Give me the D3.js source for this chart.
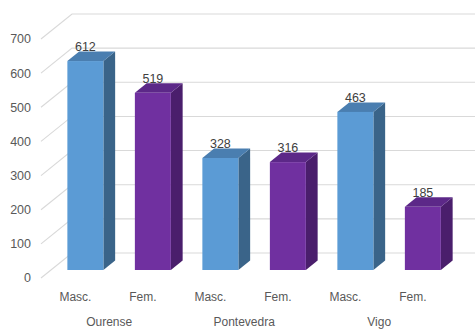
<!DOCTYPE html>
<html><head><meta charset="utf-8">
<script src="https://cdn.jsdelivr.net/npm/d3@7"></script>
<style>html,body{margin:0;padding:0;background:#fff;}svg{display:block;}</style>
</head><body>
<svg id="c" width="475" height="329"></svg>
<script>
const groups = ["Ourense", "Pontevedra", "Vigo"];
const genders = ["Masc.", "Fem."];
const values = [612, 519, 328, 316, 463, 185];
const ticks = [0, 100, 200, 300, 400, 500, 600, 700];

const svg = d3.select("#c");
const font = "'Liberation Sans', Arial, sans-serif";
const W = 475;

const cats = values.map((v, i) => ({ id: i, group: groups[Math.floor(i / 2)], gender: genders[i % 2], value: v }));

// front-floor x positions and front-plane y scale
const x = d3.scaleBand().domain(cats.map(d => d.id)).range([41.7, 446.7]).padding(0);
const y = d3.scaleLinear().domain([0, 700]).range([278, 39]);
// depth projection
const DX = 31, DY = -25;
const proj = (px, py, f) => [px + DX * f, py + DY * f];

const fills = [
  { front: "#5B9BD5", top: "#4A7EB0", side: "#3A6489" },
  { front: "#7030A0", top: "#5C2888", side: "#4A1E6C" }
];

// gridlines: side wall diagonals + back wall horizontals
const grid = svg.append("g").attr("stroke", "#D9D9D9").attr("stroke-width", 1.1).attr("fill", "none");
ticks.forEach(t => {
  const a = [41, y(t)];
  const b = proj(41, y(t), 1);
  grid.append("path").attr("d", `M${a[0]},${a[1]}L${b[0]},${b[1]}L${W},${b[1]}`);
});

// y tick labels
svg.append("g").selectAll("text").data(ticks).join("text")
  .attr("x", 31).attr("y", d => y(d)).attr("dy", "0.35em")
  .attr("text-anchor", "end").attr("font-family", font).attr("font-size", 12.5)
  .attr("fill", "#595959").text(d => d);

// bars
const f0 = 0.32, f1 = 0.70, bw = 36;
const bars = svg.append("g");
cats.forEach(d => {
  const c = fills[d.id % 2];
  const cx = x(d.id) + x.bandwidth() / 2;
  const [fx, fyb] = proj(cx - bw / 2, y(0), f0);
  const fyt = proj(0, y(d.value), f0)[1];
  const ddx = DX * (f1 - f0), ddy = DY * (f1 - f0);
  const L = fx, R = fx + bw;
  bars.append("path").attr("fill", c.side)
    .attr("d", `M${R},${fyt}L${R + ddx},${fyt + ddy}L${R + ddx},${fyb + ddy}L${R},${fyb}Z`);
  bars.append("path").attr("fill", c.top)
    .attr("d", `M${L},${fyt}L${L + ddx},${fyt + ddy}L${R + ddx},${fyt + ddy}L${R},${fyt}Z`);
  bars.append("rect").attr("fill", c.front)
    .attr("x", L).attr("y", fyt).attr("width", bw).attr("height", fyb - fyt);
  bars.append("text").attr("x", L + bw / 2).attr("y", fyt + ddy - 0.5)
    .attr("text-anchor", "middle").attr("font-family", font).attr("font-size", 12.5)
    .attr("fill", "#404040").text(d.value);
});

// category labels
svg.append("g").selectAll("text").data(cats).join("text")
  .attr("x", d => x(d.id) + x.bandwidth() / 2).attr("y", 301)
  .attr("text-anchor", "middle").attr("font-family", font).attr("font-size", 12)
  .attr("fill", "#595959").text(d => d.gender);

// group labels
svg.append("g").selectAll("text").data(groups).join("text")
  .attr("x", (d, i) => (x(i * 2) + x(i * 2 + 1)) / 2 + x.bandwidth() / 2).attr("y", 326)
  .attr("text-anchor", "middle").attr("font-family", font).attr("font-size", 12)
  .attr("fill", "#595959").text(d => d);
</script>
</body></html>
